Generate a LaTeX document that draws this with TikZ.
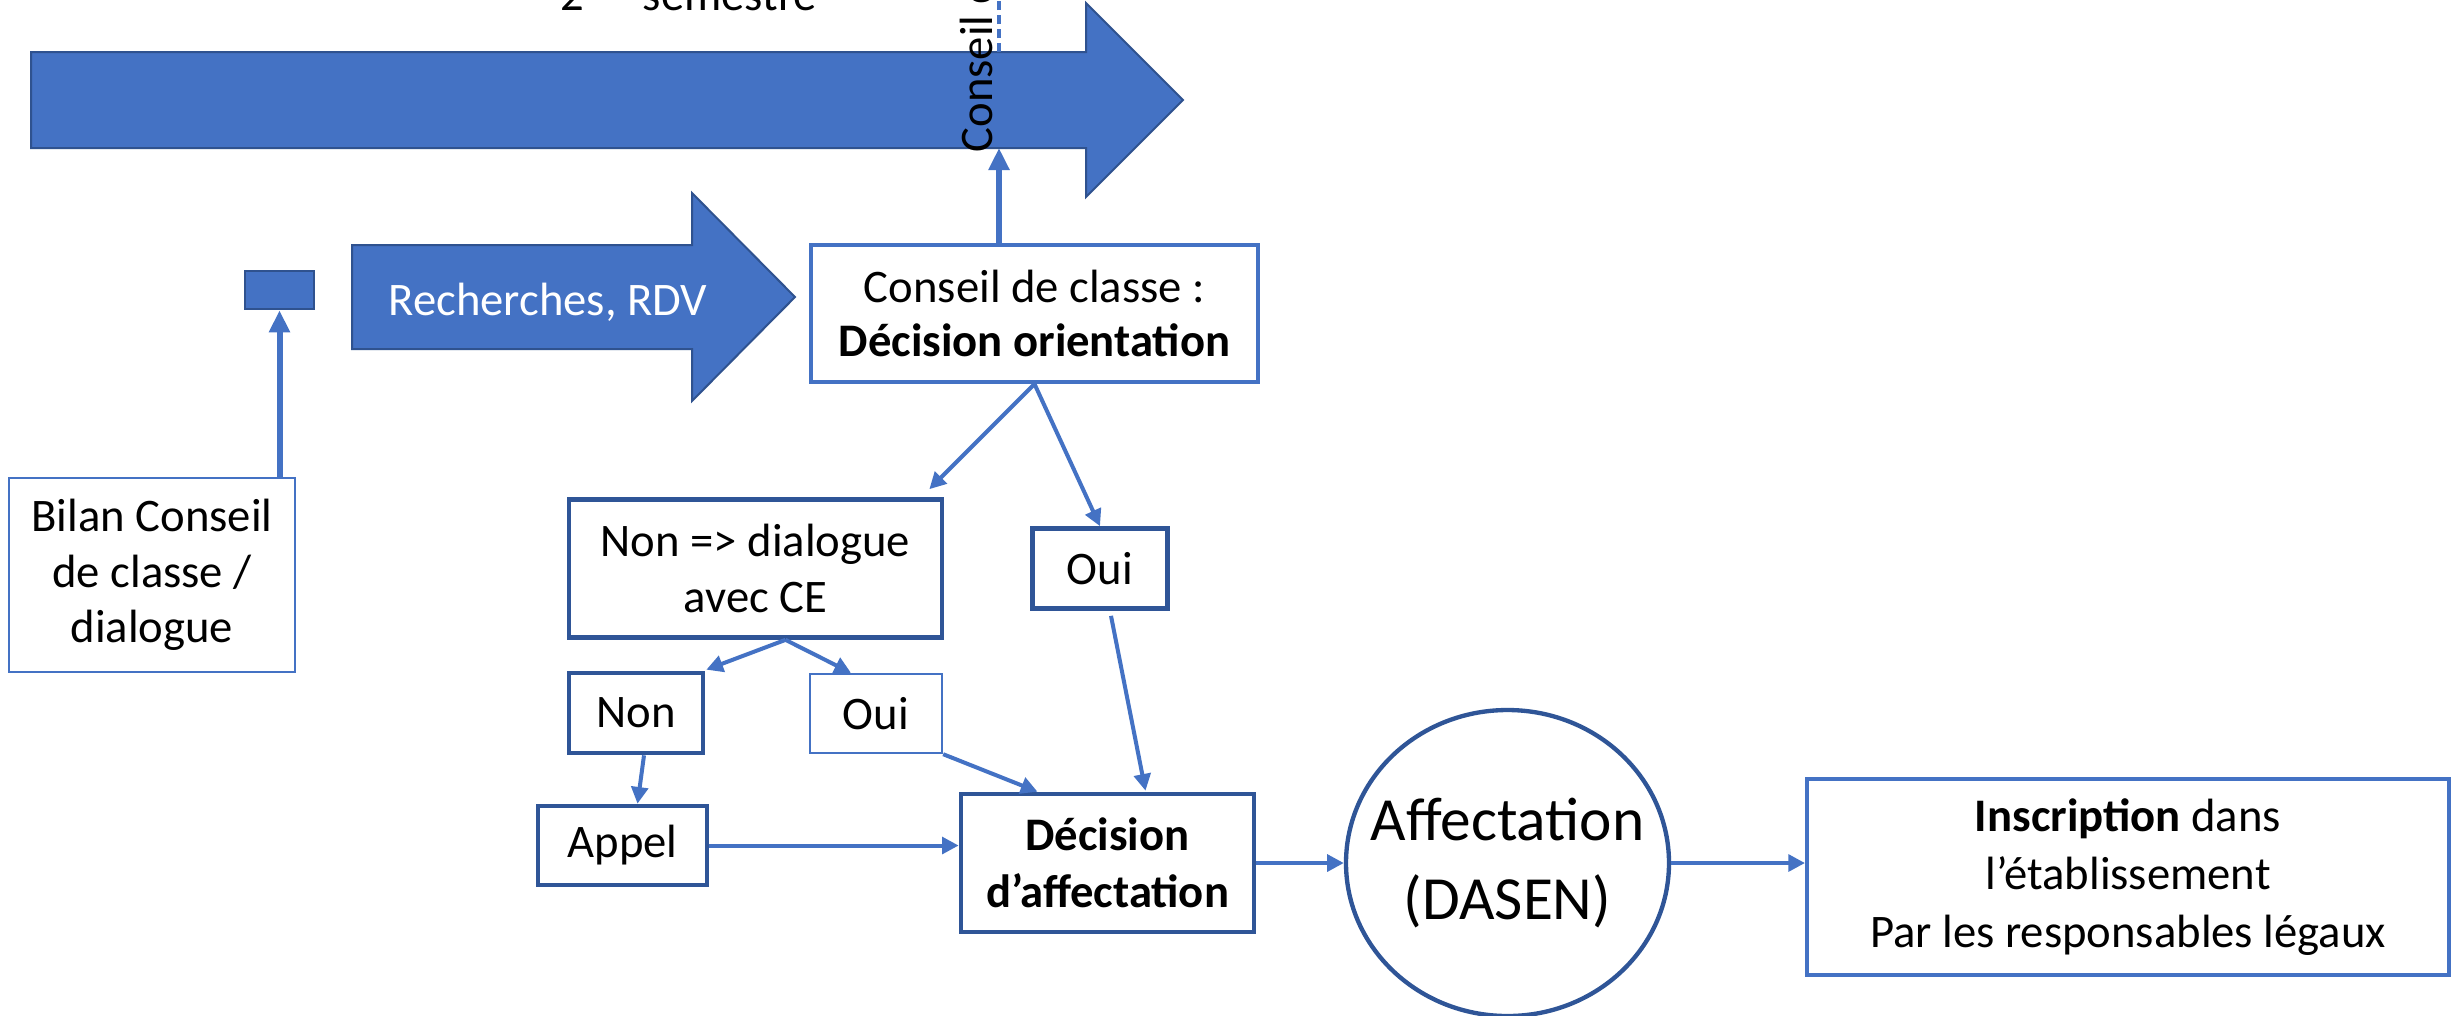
\documentclass[tikz,border=0pt]{standalone}
\usepackage{fontspec}
\setmainfont{Carlito}
\usetikzlibrary{arrows.meta,calc,shapes.geometric}
\definecolor{mblue}{HTML}{4472C4}
\definecolor{dblue}{HTML}{2F5597}
\definecolor{oblue}{HTML}{2F528F}
\begin{document}
\begin{tikzpicture}[x=0.3pt,y=-0.3pt,
  txt/.style={font=\fontsize{14}{16.6}\selectfont, align=center, inner sep=0pt},
  lbox/.style={txt, draw=mblue, line width=1.2pt, rectangle, fill=white},
  thinbox/.style={txt, draw=mblue, line width=0.7pt, rectangle, fill=white},
  dbox/.style={txt, draw=dblue, line width=1.4pt, rectangle, fill=white},
  conn/.style={draw=mblue, line width=1.2pt, -{Triangle[length=5pt,width=5pt]}},
  thickconn/.style={draw=mblue, line width=1.8pt, -{Triangle[length=6.6pt,width=6pt]}},
  bigarrow/.style={fill=mblue, draw=oblue, line width=0.6pt}
]
\useasboundingbox (0,0) rectangle (2451,1015);
\fill[white] (0,0) rectangle (2451,1015);

% big timeline arrow
\draw[bigarrow] (31,52) -- (1086,52) -- (1086,3) -- (1183,100) -- (1086,197) -- (1086,148) -- (31,148) -- cycle;
\coordinate (bigbot) at (999,148);
\coordinate (bigtop) at (999,52);
\coordinate (dashend) at (999,-10);

% top label (cut by the page edge, as in the reference)
\node[txt, anchor=base west] (sem) at (560,10) {2\textsuperscript{e}\hspace{9pt} semestre};

% vertical label
\node[txt, rotate=90, anchor=base west] (conslab) at (992,153) {Conseil de classe};
\draw[draw=mblue, line width=1.2pt, dash pattern=on 2.6pt off 1.6pt] (bigtop) -- (dashend);

% Recherches arrow
\draw[bigarrow] (352,245) -- (692,245) -- (692,193) -- (795,297) -- (692,401) -- (692,349) -- (352,349) -- cycle;
\node[txt, text=white, anchor=base] (rech) at (548,315) {Recherches, RDV};

% small square
\node[rectangle, fill=mblue, draw=oblue, line width=0.8pt, minimum width=20.7pt, minimum height=11.4pt, inner sep=0pt] (sq) at (279.5,290) {};

% boxes
\node[txt, draw=mblue, line width=0.8pt, minimum width=85.8pt, minimum height=58.2pt] (bilan) at (152,575) {Bilan Conseil\\de classe /\\dialogue};
\node[lbox, minimum width=134.1pt, minimum height=41.1pt, font=\fontsize{14}{16}\selectfont] (conseil) at (1034.5,313.5) {Conseil de classe :\\\textbf{Décision orientation}};
\node[dbox, minimum width=111.9pt, minimum height=41.4pt] (nondlg) at (755.5,568.5) {Non => dialogue\\avec CE};
\node[dbox, minimum width=40.5pt, minimum height=24pt] (ouiR) at (1100,568.5) {Oui};
\node[dbox, minimum width=40.2pt, minimum height=24pt] (non) at (636,713) {Non};
\node[thinbox, minimum width=39.6pt, minimum height=23.7pt] (ouiS) at (876,713.5) {Oui};
\node[dbox, minimum width=50.7pt, minimum height=23.7pt] (appel) at (622.5,845.5) {Appel};
\node[dbox, minimum width=87.9pt, minimum height=41.4pt, font=\fontsize{14}{17}\selectfont\bfseries] (dec) at (1107.5,863) {Décision\\d’affectation};
\node[ellipse, draw=dblue, line width=1.3pt, fill=white, inner xsep=-8pt, inner ysep=0pt, minimum width=96.9pt, minimum height=91.8pt, align=center, font=\fontsize{18.4}{23.7}\selectfont] (ell) at (1507.5,863) {Affectation\\(DASEN)};
\node[lbox, minimum width=192.6pt, minimum height=58.8pt, font=\fontsize{14}{17.3}\selectfont] (insc) at (2128,877) {\textbf{Inscription} dans\\l’établissement\\Par les responsables légaux};

% connectors
\draw[thickconn] (conseil.north -| bigbot) -- (bigbot);
\draw[thickconn] (sq.south |- bilan.north) -- (sq.south);
\draw[conn] (conseil.south) -- ($(nondlg.north east)+(-15,-8)$);
\draw[conn] (conseil.south) -- (ouiR.north);
\draw[conn] ($(ouiR.south)+(11,5)$) -- ($(dec.north)+(38,-1)$);
\draw[conn] ($(nondlg.south)+(30,0)$) -- ($(non.north east)+(1,-1)$);
\draw[conn] ($(nondlg.south)+(30,0)$) -- ($(ouiS.north)+(-25,0)$);
\draw[conn] ($(non.south)+(8,0)$) -- ($(appel.north)+(15,0)$);
\draw[conn] (appel.east) -- (appel.east -| dec.west);
\draw[conn] (ouiS.south east) -- ($(dec.north)+(-70,0)$);
\draw[conn] (dec.east) -- (ell.west);
\draw[conn] (ell.east) -- (ell.east -| insc.west);
\end{tikzpicture}
\end{document}
